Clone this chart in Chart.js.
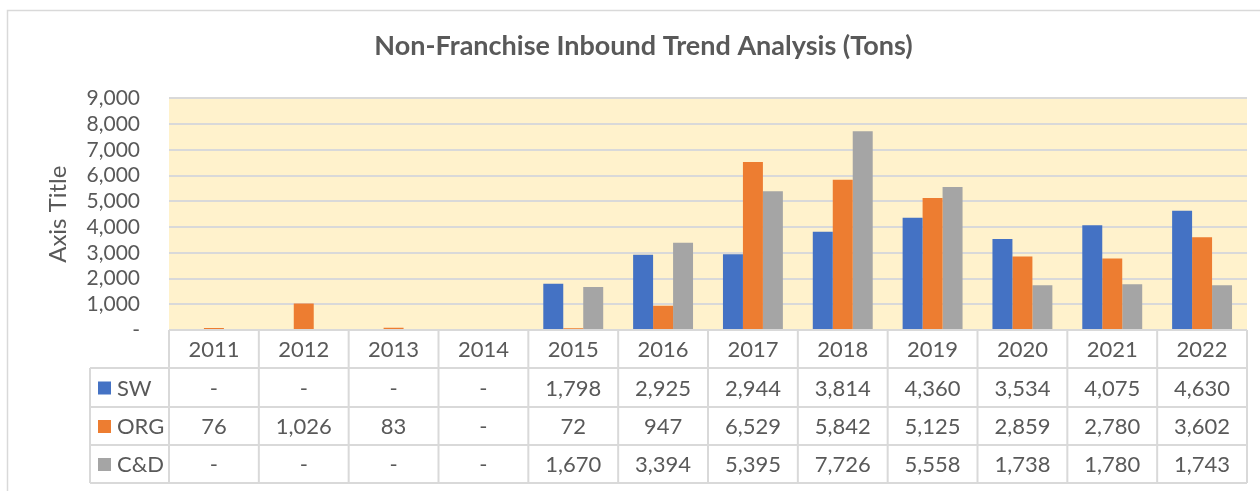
<!DOCTYPE html>
<html>
<head>
<meta charset="utf-8">
<script src="https://cdn.jsdelivr.net/npm/chart.js@4/dist/chart.umd.min.js"></script>
<style>
html,body{margin:0;padding:0;background:#fff;}
canvas{display:block;}
</style>
</head>
<body>
<canvas id="c" width="1260" height="491"></canvas>
<script>
const categories = ['2011','2012','2013','2014','2015','2016','2017','2018','2019','2020','2021','2022'];
const seriesNames = ['SW','ORG','C&D'];
const swValues  = [0, 0, 0, 0, 1798, 2925, 2944, 3814, 4360, 3534, 4075, 4630];
const orgValues = [76, 1026, 83, 0, 72, 947, 6529, 5842, 5125, 2859, 2780, 3602];
const cdValues  = [0, 0, 0, 0, 1670, 3394, 5395, 7726, 5558, 1738, 1780, 1743];
const seriesColors = ['#4472C4', '#ED7D31', '#A5A5A5'];
const yTicks = [0, 1000, 2000, 3000, 4000, 5000, 6000, 7000, 8000, 9000];

const FONT = 'Lato, "Liberation Sans", sans-serif';
const TEXT = '#595959';
const LINE = '#D9D9D9';

function fmt(v){ return v === 0 ? '-' : v.toLocaleString('en-US'); }

const bgPlugin = {
  id: 'bg',
  beforeDraw(chart){
    const {ctx, chartArea: a} = chart;
    ctx.save();
    ctx.fillStyle = '#fff';
    ctx.fillRect(0, 0, chart.width, chart.height);
    ctx.strokeStyle = LINE;
    ctx.lineWidth = 1.5;
    ctx.strokeRect(7.5, 10.5, chart.width + 10, chart.height + 10);
    ctx.fillStyle = '#FFF2CC';
    ctx.fillRect(a.left, a.top, a.right - a.left, a.bottom - a.top);
    ctx.restore();
  }
};

const tablePlugin = {
  id: 'table',
  afterDraw(chart){
    const {ctx, chartArea: a} = chart;
    const x = chart.scales.x;
    const n = categories.length;
    const w = (a.right - a.left) / n;
    const legendLeft = 90;
    const rows = [a.bottom, 368, 407, 445, 483];
    ctx.save();
    ctx.strokeStyle = LINE;
    ctx.lineWidth = 2;
    ctx.beginPath();
    ctx.moveTo(a.left, rows[0]); ctx.lineTo(a.right, rows[0]);
    for (let r = 1; r < rows.length; r++){
      ctx.moveTo(legendLeft, rows[r]); ctx.lineTo(a.right, rows[r]);
    }
    for (let i = 0; i <= n; i++){
      const px = a.left + i * w;
      ctx.moveTo(px, rows[0]); ctx.lineTo(px, rows[4]);
    }
    ctx.moveTo(legendLeft, rows[1]); ctx.lineTo(legendLeft, rows[4]);
    ctx.stroke();

    ctx.fillStyle = TEXT;
    ctx.font = '22px ' + FONT;
    ctx.textAlign = 'center';
    ctx.textBaseline = 'middle';
    categories.forEach((c, i) => {
      ctx.fillText(c, x.getPixelForValue(i), (rows[0] + rows[1]) / 2 + 1);
    });
    const data = [swValues, orgValues, cdValues];
    data.forEach((vals, s) => {
      const cy = (rows[s + 1] + rows[s + 2]) / 2 + 1;
      vals.forEach((v, i) => {
        ctx.fillStyle = TEXT;
        ctx.textAlign = 'center';
        ctx.fillText(fmt(v), x.getPixelForValue(i), cy);
      });
      ctx.fillStyle = seriesColors[s];
      ctx.fillRect(98, cy - 7, 13, 13);
      ctx.fillStyle = TEXT;
      ctx.textAlign = 'left';
      ctx.fillText(seriesNames[s], 117, cy);
    });
    ctx.restore();
  }
};

new Chart(document.getElementById('c'), {
  type: 'bar',
  data: {
    labels: categories,
    datasets: [
      {label: seriesNames[0], data: swValues, backgroundColor: seriesColors[0]},
      {label: seriesNames[1], data: orgValues, backgroundColor: seriesColors[1]},
      {label: seriesNames[2], data: cdValues, backgroundColor: seriesColors[2]}
    ]
  },
  options: {
    responsive: false,
    animation: false,
    devicePixelRatio: 1,
    layout: {padding: {left: 40, right: 13, top: 0, bottom: 153}},
    datasets: {bar: {categoryPercentage: 0.667, barPercentage: 1.0, borderWidth: 0}},
    plugins: {
      legend: {display: false},
      tooltip: {enabled: false},
      title: {
        display: true,
        text: 'Non-Franchise Inbound Trend Analysis (Tons)',
        color: TEXT,
        font: {family: FONT, size: 27, weight: 'bold'},
        padding: {top: 30, bottom: 36}
      }
    },
    scales: {
      x: {
        ticks: {display: false},
        grid: {display: false},
        border: {display: false}
      },
      y: {
        min: 0, max: 9000,
        afterBuildTicks(scale){ scale.ticks = yTicks.map(v => ({value: v})); },
        afterFit(scale){ scale.width = 129; },
        ticks: {
          color: TEXT,
          padding: 29,
          autoSkip: false,
          font: {family: FONT, size: 21},
          callback: v => fmt(v)
        },
        grid: {color: LINE, lineWidth: 2, drawTicks: false},
        border: {display: false},
        title: {
          display: true,
          text: 'Axis Title',
          color: TEXT,
          font: {family: FONT, size: 24},
          padding: {top: 4, bottom: 4}
        }
      }
    }
  },
  plugins: [bgPlugin, tablePlugin]
});
</script>
</body>
</html>
